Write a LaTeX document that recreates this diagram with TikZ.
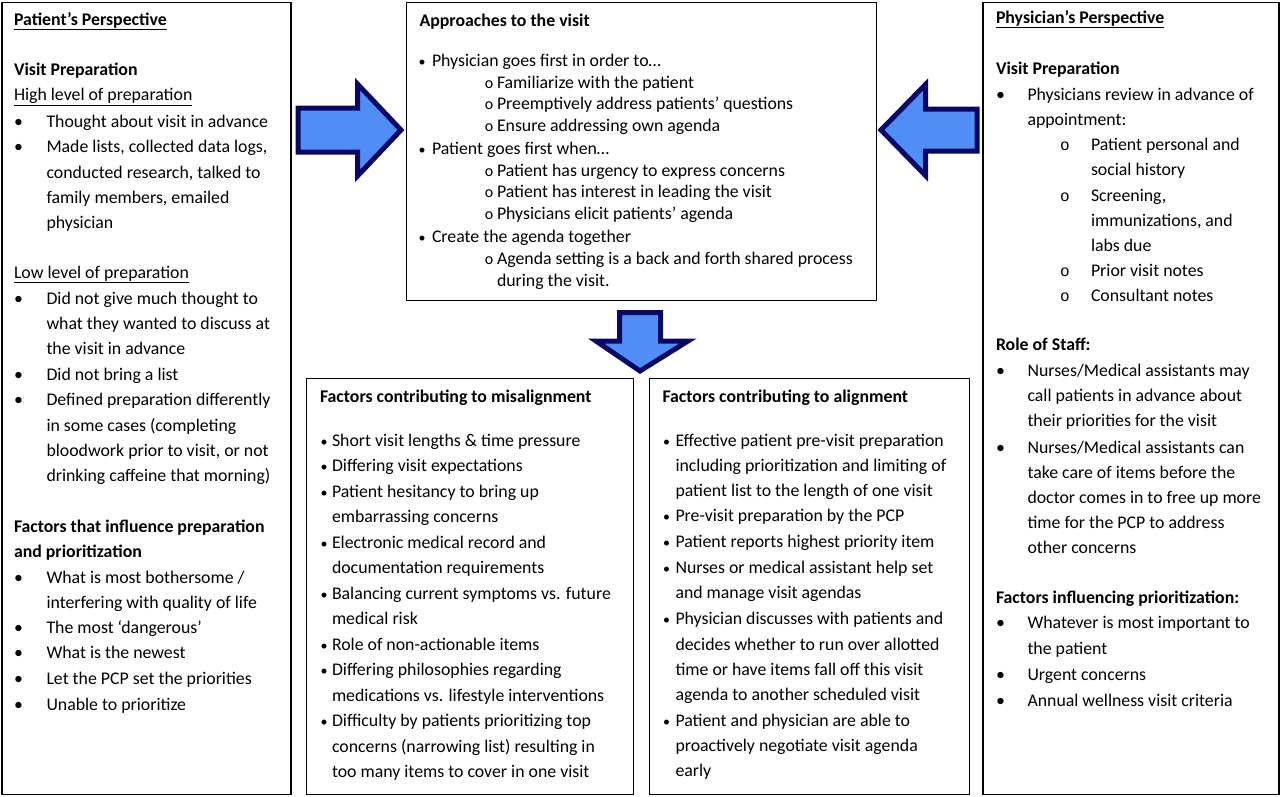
\documentclass[tikz,border=0pt]{standalone}
\usepackage{fontspec}
\setmainfont{Carlito}
\newfontfamily\monofnt{Liberation Mono}
\definecolor{arrowfill}{RGB}{79,142,245}
\definecolor{arrowline}{RGB}{8,8,100}
\tikzset{
  txt/.style={anchor=base west, inner sep=0pt, outer sep=0pt, font=\fontsize{17.8}{21}\selectfont},
  bul/.style={anchor=base, inner sep=0pt, outer sep=0pt, font=\fontsize{17.8}{21}\selectfont},
  smallbul/.style={anchor=base, inner sep=0pt, outer sep=0pt, font=\fontsize{14}{21}\selectfont},
  subo/.style={anchor=base, inner sep=0pt, outer sep=0pt, font=\fontsize{16}{21}\selectfont},
  monoo/.style={anchor=base, inner sep=0pt, outer sep=0pt, font=\monofnt\fontsize{16}{21}\selectfont},
  panel/.style={draw=black, line width=1.6pt, anchor=north west, inner sep=0pt},
  blockarrow/.style={fill=arrowfill, draw=arrowline, line width=5pt, line join=miter}
}
% name, bullet x, text x, baseline y, text
\newcommand{\BLline}[5]{\node[bul] (#1-b) at (#2,#4) {\textbullet}; \node[txt] (#1) at (#3,#4) {#5};}
\newcommand{\SBline}[5]{\node[smallbul] (#1-b) at (#2,#4) {\textbullet}; \node[txt] (#1) at (#3,#4) {#5};}
\newcommand{\SOline}[5]{\node[subo] (#1-b) at (#2,#4) {o}; \node[txt] (#1) at (#3,#4) {#5};}
\newcommand{\MOline}[5]{\node[monoo] (#1-b) at (#2,#4) {o}; \node[txt] (#1) at (#3,#4) {#5};}
\newcommand{\Tline}[4]{\node[txt] (#1) at (#2,#3) {#4};}
\begin{document}
\begin{tikzpicture}[x=1pt,y=-1pt]
\useasboundingbox (0,0) rectangle (1280,796);
% panels
\node[panel, minimum width=289pt, minimum height=792pt] (leftbox) at (1,1.5) {};
\node[panel, minimum width=470pt, minimum height=298pt] (centerbox) at (405.5,1.5) {};
\node[panel, minimum width=296pt, minimum height=792pt] (rightbox) at (982,1.5) {};
\node[panel, minimum width=327pt, minimum height=416pt] (misbox) at (305.5,377.5) {};
\node[panel, minimum width=320pt, minimum height=416pt] (alibox) at (648.5,377.5) {};
% block arrows
\draw[blockarrow] (298,108) -- (357.5,108) -- (357.5,84) -- (401,130) -- (357.5,176) -- (357.5,152) -- (298,152) -- cycle;
\draw[blockarrow] (881,130) -- (925.5,84.5) -- (925.5,109) -- (977,109) -- (977,151) -- (925.5,151) -- (925.5,175.5) -- cycle;
\draw[blockarrow] (619.5,312.5) -- (660.5,312.5) -- (660.5,341) -- (688,341) -- (640,371) -- (596,341) -- (619.5,341) -- cycle;
% left panel
\Tline{L1}{14}{25}{\underline{\textbf{Patient’s Perspective}}}
\Tline{L2}{14}{75}{\textbf{Visit Preparation}}
\Tline{L3}{14}{100.5}{\underline{High level of preparation}}
\BLline{L4}{18.5}{46.5}{127}{Thought about visit in advance}
\BLline{L5}{18.5}{46.5}{152.5}{Made lists, collected data logs,}
\Tline{L6}{46.5}{178}{conducted research, talked to}
\Tline{L7}{46.5}{203}{family members, emailed}
\Tline{L8}{46.5}{228.5}{physician}
\Tline{L9}{14}{278}{\underline{Low level of preparation}}
\BLline{L10}{18.5}{46.5}{304}{Did not give much thought to}
\Tline{L11}{46.5}{329}{what they wanted to discuss at}
\Tline{L12}{46.5}{354.5}{the visit in advance}
\BLline{L13}{18.5}{46.5}{380}{Did not bring a list}
\BLline{L14}{18.5}{46.5}{405.5}{Defined preparation differently}
\Tline{L15}{46.5}{431}{in some cases (completing}
\Tline{L16}{46.5}{456}{bloodwork prior to visit, or not}
\Tline{L17}{46.5}{481.5}{drinking caffeine that morning)}
\Tline{L18}{14}{532}{\textbf{Factors that influence preparation}}
\Tline{L19}{14}{557}{\textbf{and prioritization}}
\BLline{L20}{18.5}{46.5}{583}{What is most bothersome /}
\Tline{L21}{46.5}{608}{interfering with quality of life}
\BLline{L22}{18.5}{46.5}{633}{The most ‘dangerous’}
\BLline{L23}{18.5}{46.5}{658.5}{What is the newest}
\BLline{L24}{18.5}{46.5}{684.5}{Let the PCP set the priorities}
\BLline{L25}{18.5}{46.5}{710}{Unable to prioritize}
% center panel
\Tline{C1}{419.5}{26}{\textbf{Approaches to the visit}}
\SBline{C2}{422}{432}{66.5}{Physician goes first in order to…}
\SOline{C3}{489}{497}{88}{Familiarize with the patient}
\SOline{C4}{489}{497}{109.5}{Preemptively address patients’ questions}
\SOline{C5}{489}{497}{131}{Ensure addressing own agenda}
\SBline{C6}{422}{432}{154}{Patient goes first when…}
\SOline{C7}{489}{497}{176}{Patient has urgency to express concerns}
\SOline{C8}{489}{497}{197.5}{Patient has interest in leading the visit}
\SOline{C9}{489}{497}{219}{Physicians elicit patients’ agenda}
\SBline{C10}{422}{432}{242.5}{Create the agenda together}
\SOline{C11}{489}{497}{264}{Agenda setting is a back and forth shared process}
\Tline{C12}{497}{286}{during the visit.}
% right panel
\Tline{R1}{996}{23}{\underline{\textbf{Physician’s Perspective}}}
\Tline{R2}{996}{74}{\textbf{Visit Preparation}}
\BLline{R3}{1000.5}{1027.5}{100}{Physicians review in advance of}
\Tline{R4}{1027.5}{125}{appointment:}
\MOline{R5}{1065}{1091}{150.5}{Patient personal and}
\Tline{R6}{1091}{175.5}{social history}
\MOline{R7}{1065}{1091}{201}{Screening,}
\Tline{R8}{1091}{226}{immunizations, and}
\Tline{R9}{1091}{251}{labs due}
\MOline{R10}{1065}{1091}{276}{Prior visit notes}
\MOline{R11}{1065}{1091}{301}{Consultant notes}
\Tline{R12}{996}{350.5}{\textbf{Role of Staff:}}
\BLline{R13}{1000.5}{1027.5}{376.5}{Nurses/Medical assistants may}
\Tline{R14}{1027.5}{401.5}{call patients in advance about}
\Tline{R15}{1027.5}{426.5}{their priorities for the visit}
\BLline{R16}{1000.5}{1027.5}{453}{Nurses/Medical assistants can}
\Tline{R17}{1027.5}{478}{take care of items before the}
\Tline{R18}{1027.5}{503.5}{doctor comes in to free up more}
\Tline{R19}{1027.5}{528.5}{time for the PCP to address}
\Tline{R20}{1027.5}{553}{other concerns}
\Tline{R21}{996}{603}{\textbf{Factors influencing prioritization:}}
\BLline{R22}{1000.5}{1027.5}{628.5}{Whatever is most important to}
\Tline{R23}{1027.5}{654}{the patient}
\BLline{R24}{1000.5}{1027.5}{680}{Urgent concerns}
\BLline{R25}{1000.5}{1027.5}{706}{Annual wellness visit criteria}
% misalignment panel
\Tline{M1}{320}{402}{\textbf{Factors contributing to misalignment}}
\SBline{M2}{324}{332}{446}{Short visit lengths \& time pressure}
\SBline{M3}{324}{332}{471.5}{Differing visit expectations}
\SBline{M4}{324}{332}{497}{Patient hesitancy to bring up}
\Tline{M5}{332}{522.5}{embarrassing concerns}
\SBline{M6}{324}{332}{548}{Electronic medical record and}
\Tline{M7}{332}{573.5}{documentation requirements}
\SBline{M8}{324}{332}{599}{Balancing current symptoms vs. future}
\Tline{M9}{332}{624.5}{medical risk}
\SBline{M10}{324}{332}{650}{Role of non-actionable items}
\SBline{M11}{324}{332}{675.5}{Differing philosophies regarding}
\Tline{M12}{332}{701}{medications vs. lifestyle interventions}
\SBline{M13}{324}{332}{726.5}{Difficulty by patients prioritizing top}
\Tline{M14}{332}{752}{concerns (narrowing list) resulting in}
\Tline{M15}{332}{777.5}{too many items to cover in one visit}
% alignment panel
\Tline{A1}{662.5}{402}{\textbf{Factors contributing to alignment}}
\SBline{A2}{666.5}{675.5}{446}{Effective patient pre-visit preparation}
\Tline{A3}{675.5}{471}{including prioritization and limiting of}
\Tline{A4}{675.5}{496}{patient list to the length of one visit}
\SBline{A5}{666.5}{675.5}{521.5}{Pre-visit preparation by the PCP}
\SBline{A6}{666.5}{675.5}{547}{Patient reports highest priority item}
\SBline{A7}{666.5}{675.5}{573}{Nurses or medical assistant help set}
\Tline{A8}{675.5}{598}{and manage visit agendas}
\SBline{A9}{666.5}{675.5}{624.5}{Physician discusses with patients and}
\Tline{A10}{675.5}{650}{decides whether to run over allotted}
\Tline{A11}{675.5}{675}{time or have items fall off this visit}
\Tline{A12}{675.5}{700.5}{agenda to another scheduled visit}
\SBline{A13}{666.5}{675.5}{726}{Patient and physician are able to}
\Tline{A14}{675.5}{751}{proactively negotiate visit agenda}
\Tline{A15}{675.5}{776.5}{early}
\end{tikzpicture}
\end{document}
